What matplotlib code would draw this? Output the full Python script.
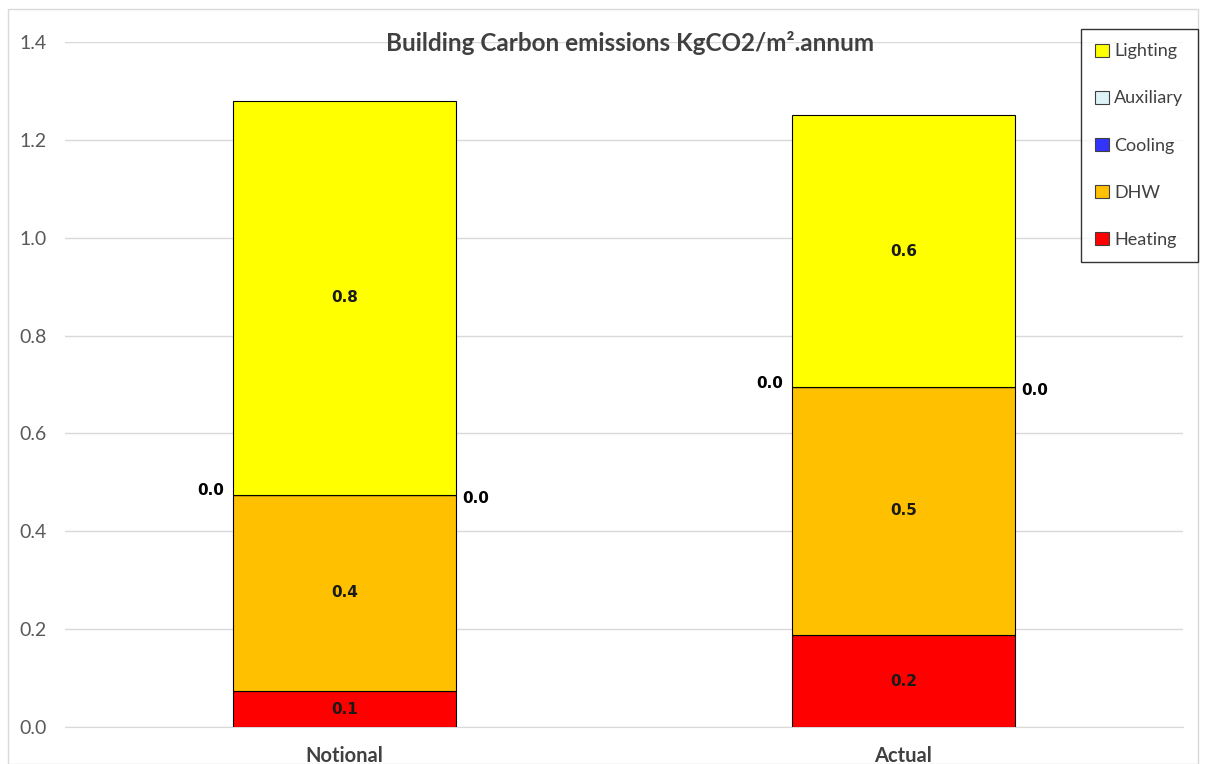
import numpy as np
from matplotlib import pyplot as plt
from matplotlib.patches import Patch

plt.rcParams['font.family'] = ['Lato', 'DejaVu Sans']

categories = ["Notional", "Actual"]
heating = [0.073, 0.188]
dhw = [0.402, 0.507]
cooling = [0.0, 0.0]
auxiliary = [0.0, 0.0]
lighting = [0.805, 0.555]

series = [
    ("Heating", heating, "#FF0000"),
    ("DHW", dhw, "#FFC000"),
    ("Cooling", cooling, "#3333FF"),
    ("Auxiliary", auxiliary, "#DDF3F7"),
    ("Lighting", lighting, "#FFFF00"),
]

fig = plt.figure(figsize=(12.06, 7.64), dpi=100)
ax = fig.add_axes([65 / 1206, 1 - 727 / 764, 1118 / 1206, 685 / 764])

x = np.arange(len(categories))
width = 0.4
bottom = np.zeros(len(categories))
lbl = dict(fontsize=11, fontweight="bold", family="DejaVu Sans", zorder=4)
for name, vals, col in series:
    vals = np.array(vals)
    ax.bar(x, vals, width, bottom=bottom, color=col, edgecolor="black",
           linewidth=0.8, zorder=3, label=name)
    for i, v in enumerate(vals):
        mid = bottom[i] + v / 2
        txt = f"{v:.1f}"
        if name == "Cooling":
            ax.text(x[i] - width / 2 - 0.015, mid + 0.008, txt, ha="right", va="center",
                    color="black", **lbl)
        elif name == "Auxiliary":
            ax.text(x[i] + width / 2 + 0.01, mid - 0.008, txt, ha="left", va="center",
                    color="black", **lbl)
        else:
            ax.text(x[i], mid, txt, ha="center", va="center", color="#1a1a1a", **lbl)
    bottom += vals

ax.set_xlim(-0.5, 1.5)
ax.set_ylim(0, 1.4)
ax.set_yticks(np.arange(0, 1.41, 0.2))
ax.set_yticklabels([f"{t:.1f}" for t in np.arange(0, 1.41, 0.2)])
ax.set_xticks(x)
ax.set_xticklabels(categories, fontsize=14.5, fontweight="bold", color="#404040")
ax.tick_params(axis="y", length=0, labelsize=14, labelcolor="#595959", pad=13)
ax.tick_params(axis="x", length=0, pad=14)
ax.grid(axis="y", color="#D9D9D9", linewidth=1, zorder=0)
for s in ["top", "right", "left"]:
    ax.spines[s].set_visible(False)
ax.spines["bottom"].set_color("#D9D9D9")

fig.text(630 / 1206, 1 - 43 / 764, "Building Carbon emissions KgCO2/m\u00b2.annum",
         ha="center", va="center", fontsize=17.5, fontweight="bold", color="#404040")

handles = [Patch(facecolor=col, edgecolor="#404040", linewidth=0.8, label=name)
           for name, vals, col in series[::-1]]
leg = fig.legend(handles=handles, loc="upper left",
                 bbox_to_anchor=(1081 / 1206, 1 - 29 / 764), frameon=True,
                 fancybox=False, edgecolor="black", fontsize=13, labelspacing=1.72,
                 handlelength=0.75, handleheight=0.75, handletextpad=0.3,
                 borderpad=0.8, borderaxespad=0)
leg.get_frame().set_linewidth(1.0)
for t in leg.get_texts():
    t.set_color("#404040")

fig.patches.append(plt.Rectangle((8 / 1206, 0), 1 - 16 / 1206, 1 - 9 / 764,
                                 transform=fig.transFigure, fill=False,
                                 edgecolor="#D9D9D9", linewidth=1))

fig.savefig("out.png", dpi=100)
